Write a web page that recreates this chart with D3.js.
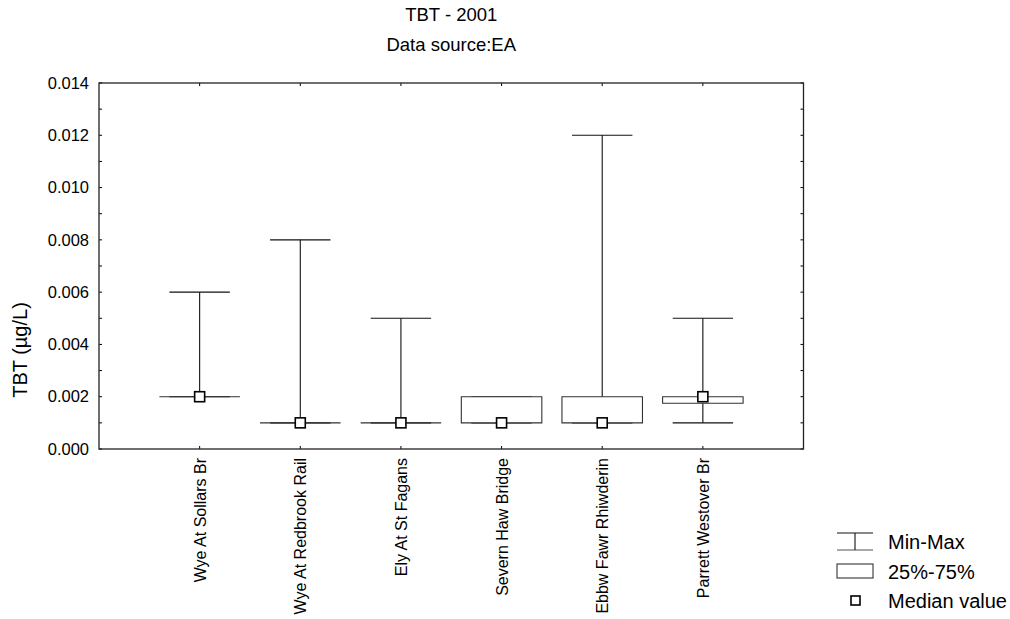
<!DOCTYPE html>
<html>
<head>
<meta charset="utf-8">
<script src="https://cdn.jsdelivr.net/npm/d3@7"></script>
<style>
  html, body { margin: 0; padding: 0; background: #fff; }
  svg { display: block; font-family: "Liberation Sans", Arial, sans-serif; }
</style>
</head>
<body>
<svg id="chart" width="1010" height="619"></svg>
<script>
// Sampling sites and TBT summary statistics (µg/L)
const categories = [
  "Wye At Sollars Br",
  "Wye At Redbrook Rail",
  "Ely At St Fagans",
  "Severn Haw Bridge",
  "Ebbw Fawr Rhiwderin",
  "Parrett Westover Br"
];
const minValues    = [0.002, 0.001, 0.001, 0.001, 0.001, 0.001];
const maxValues    = [0.006, 0.008, 0.005, 0.002, 0.012, 0.005];
const q1Values     = [0.002, 0.001, 0.001, 0.001, 0.001, 0.00175];
const q3Values     = [0.002, 0.001, 0.001, 0.002, 0.002, 0.002];
const medianValues = [0.002, 0.001, 0.001, 0.001, 0.001, 0.002];
const yTickValues  = [0, 0.002, 0.004, 0.006, 0.008, 0.010, 0.012, 0.014];
const yMinorTicks  = [0.001, 0.003, 0.005, 0.007, 0.009, 0.011, 0.013];

const titleLines = ["TBT - 2001", "Data source:EA"];
const yLabel = "TBT (µg/L)";
const legendLabels = ["Min-Max", "25%-75%", "Median value"];

const rows = categories.map((c, i) => ({
  name: c, min: minValues[i], max: maxValues[i],
  q1: q1Values[i], q3: q3Values[i], median: medianValues[i]
}));

const svg = d3.select("#chart");
const plot = { left: 99, right: 803.5, top: 83, bottom: 449 };

const x = d3.scalePoint().domain(categories).range([plot.left, plot.right]).padding(1);
const y = d3.scaleLinear().domain([0, 0.014]).range([plot.bottom, plot.top]);
const step = x.step();
const boxW = step * 0.8;
const capW = step * 0.6;

// Titles
svg.append("g").selectAll("text").data(titleLines).join("text")
  .attr("x", (plot.left + plot.right) / 2).attr("y", (d, i) => 21 + i * 30)
  .attr("text-anchor", "middle").attr("font-size", 18.5).attr("fill", "#000")
  .text(d => d);

// Whiskers (min-max)
const wh = svg.append("g").attr("stroke", "#111").attr("stroke-width", 1.1).attr("fill", "none");
wh.selectAll("line.stem").data(rows).join("line").attr("class", "stem")
  .attr("x1", d => x(d.name)).attr("x2", d => x(d.name))
  .attr("y1", d => y(d.min)).attr("y2", d => y(d.max));
wh.selectAll("line.capTop").data(rows).join("line").attr("class", "capTop")
  .attr("x1", d => x(d.name) - capW / 2).attr("x2", d => x(d.name) + capW / 2)
  .attr("y1", d => y(d.max)).attr("y2", d => y(d.max));
wh.selectAll("line.capBot").data(rows).join("line").attr("class", "capBot")
  .attr("x1", d => x(d.name) - capW / 2).attr("x2", d => x(d.name) + capW / 2)
  .attr("y1", d => y(d.min)).attr("y2", d => y(d.min));

// Boxes (25%-75%), drawn as closed paths so flat boxes still show as a line
svg.append("g").selectAll("path").data(rows).join("path")
  .attr("d", d => {
    const x0 = x(d.name) - boxW / 2, x1 = x(d.name) + boxW / 2;
    const yt = y(d.q3), yb = y(d.q1);
    return `M${x0},${yt}H${x1}V${yb}H${x0}Z`;
  })
  .attr("fill", "#fff").attr("stroke", "#333").attr("stroke-width", 1.1);

// Median markers
svg.append("g").selectAll("rect").data(rows).join("rect")
  .attr("x", d => x(d.name) - 5).attr("y", d => y(d.median) - 5)
  .attr("width", 10).attr("height", 10)
  .attr("fill", "#fff").attr("stroke", "#000").attr("stroke-width", 1.6);

// Axes with inward ticks
const frame = svg.append("g");
const leftAxis = frame.append("g").attr("transform", `translate(${plot.left},0)`)
  .call(d3.axisLeft(y).tickValues(yTickValues).tickFormat(d3.format(".3f")).tickSize(0).tickPadding(10));
leftAxis.select(".domain").remove();
leftAxis.selectAll("text").attr("font-size", 16.5).attr("font-family", "Liberation Sans, Arial, sans-serif").attr("fill", "#000");

const allYTicks = yTickValues.concat(yMinorTicks);
frame.append("g").selectAll("line").data(allYTicks).join("line")
  .attr("x1", plot.left).attr("x2", plot.left + 3)
  .attr("y1", d => y(d)).attr("y2", d => y(d))
  .attr("stroke", "#000");
frame.append("g").selectAll("line").data(allYTicks).join("line")
  .attr("x1", plot.right).attr("x2", plot.right - 3)
  .attr("y1", d => y(d)).attr("y2", d => y(d))
  .attr("stroke", "#000");

const bottomAxis = frame.append("g").attr("transform", `translate(0,${plot.bottom})`)
  .call(d3.axisBottom(x).tickSize(0).tickPadding(0));
bottomAxis.select(".domain").remove();
bottomAxis.selectAll("text")
  .attr("font-size", 16).attr("font-family", "Liberation Sans, Arial, sans-serif").attr("fill", "#000")
  .attr("transform", "rotate(-90)")
  .attr("text-anchor", "end")
  .attr("x", -9).attr("y", 0).attr("dy", "0.35em");

frame.append("g").selectAll("line").data(categories).join("line")
  .attr("x1", d => x(d)).attr("x2", d => x(d))
  .attr("y1", plot.bottom).attr("y2", plot.bottom - 3).attr("stroke", "#000");
frame.append("g").selectAll("line").data(categories).join("line")
  .attr("x1", d => x(d)).attr("x2", d => x(d))
  .attr("y1", plot.top).attr("y2", plot.top + 3).attr("stroke", "#000");

frame.append("rect")
  .attr("x", plot.left).attr("y", plot.top)
  .attr("width", plot.right - plot.left).attr("height", plot.bottom - plot.top)
  .attr("fill", "none").attr("stroke", "#222").attr("stroke-width", 1.3);

// Y axis title
svg.append("text")
  .attr("transform", "translate(27,350) rotate(-90)")
  .attr("text-anchor", "middle").attr("font-size", 20).attr("fill", "#000")
  .text(yLabel);

// Legend
const lg = svg.append("g").attr("stroke", "#111").attr("stroke-width", 1.1).attr("fill", "none");
lg.append("line").attr("x1", 837).attr("x2", 873).attr("y1", 533).attr("y2", 533);
lg.append("line").attr("x1", 837).attr("x2", 873).attr("y1", 550).attr("y2", 550).attr("stroke", "#555");
lg.append("line").attr("x1", 855).attr("x2", 855).attr("y1", 533).attr("y2", 550);
lg.append("rect").attr("x", 837).attr("y", 564).attr("width", 36).attr("height", 14).attr("fill", "#fff").attr("stroke", "#333");
lg.append("rect").attr("x", 851).attr("y", 596).attr("width", 9).attr("height", 9).attr("fill", "#fff").attr("stroke", "#000").attr("stroke-width", 1.6);

svg.append("g").selectAll("text").data(legendLabels).join("text")
  .attr("x", 888).attr("y", (d, i) => 549 + i * 29.5)
  .attr("font-size", 20).attr("fill", "#000")
  .text(d => d);
</script>
</body>
</html>
